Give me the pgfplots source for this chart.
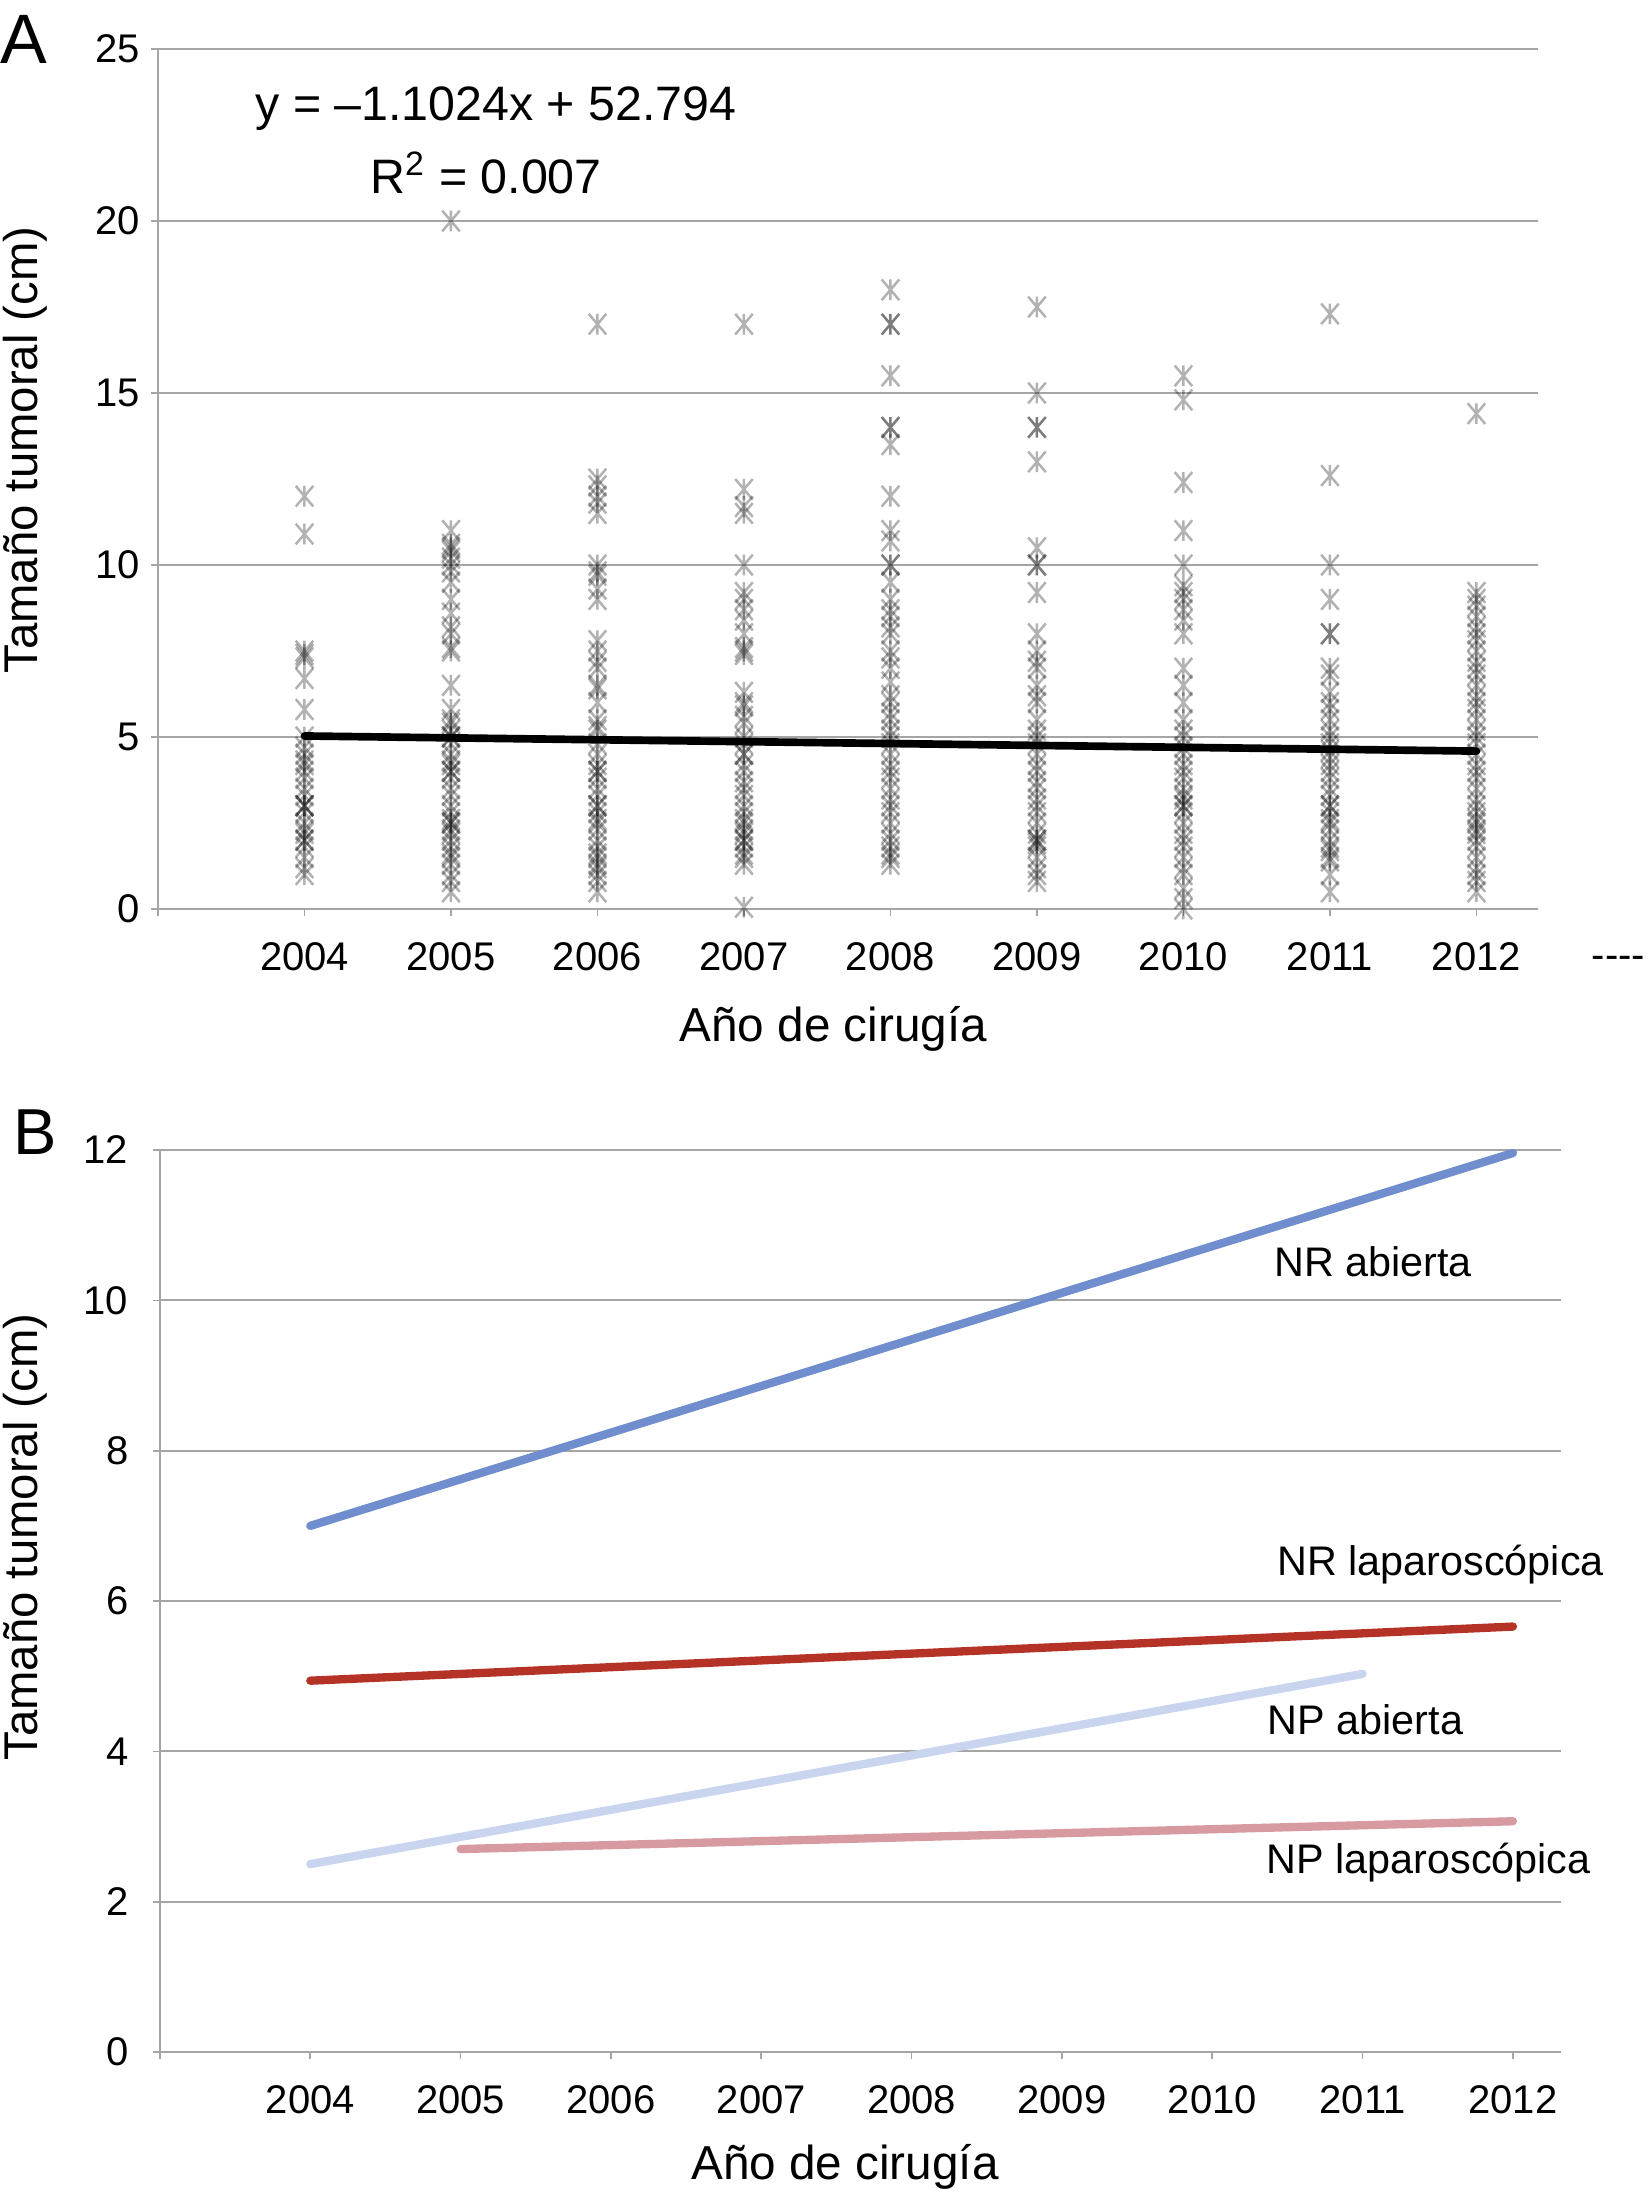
\documentclass[border=0pt]{standalone}
\usepackage{pgfplots}
\pgfplotsset{compat=1.18}
\usepackage{fontspec}
\setmainfont{Liberation Sans}

\definecolor{gridgray}{RGB}{165,165,165}
\definecolor{nrabierta}{RGB}{112,141,206}
\definecolor{nrlapar}{RGB}{180,50,38}
\definecolor{npabierta}{RGB}{201,213,238}
\definecolor{nplapar}{RGB}{214,154,160}

% Excel-like asterisk: vertical bar plus a steep X
\pgfdeclareplotmark{xast}{%
  \pgfpathmoveto{\pgfqpoint{0pt}{\pgfplotmarksize}}%
  \pgfpathlineto{\pgfqpoint{0pt}{-\pgfplotmarksize}}%
  \pgfpathmoveto{\pgfqpoint{-0.85\pgfplotmarksize}{-\pgfplotmarksize}}%
  \pgfpathlineto{\pgfqpoint{0.85\pgfplotmarksize}{\pgfplotmarksize}}%
  \pgfpathmoveto{\pgfqpoint{-0.85\pgfplotmarksize}{\pgfplotmarksize}}%
  \pgfpathlineto{\pgfqpoint{0.85\pgfplotmarksize}{-\pgfplotmarksize}}%
  \pgfusepathqstroke
}

\pgfplotsset{
  panel/.style={
    scale only axis,
    anchor=south west,
    axis x line*=bottom,
    axis y line*=left,
    axis line style={draw=gridgray, line width=0.6pt},
    ymajorgrids,
    grid style={draw=gridgray, line width=0.6pt},
    tick style={draw=gridgray, line width=0.5pt},
    tick align=outside,
    major tick length=2pt,
    xtick={2003,2004,2005,2006,2007,2008,2009,2010,2011,2012},
    xticklabels={,2004,2005,2006,2007,2008,2009,2010,2011,2012},
    ticklabel style={font=\fontsize{12}{12}\selectfont},
    xticklabel style={yshift=-4.4pt},
    /pgf/number format/assume math mode=true,
    clip=false,
  },
}

\begin{document}
\begin{tikzpicture}
\path[use as bounding box] (0pt,0pt) rectangle (495pt,-657.3pt);

% ---------- panel A ----------
\begin{axis}[panel,
  at={(47.4pt,-272.7pt)}, width=414pt, height=258pt,
  xmin=2003, xmax=2012.42, ymin=0, ymax=25,
  ytick={0,5,10,15,20,25},
]
\addplot[only marks, mark=xast, mark size=3.1pt,
  mark options={draw=black, draw opacity=0.3, line width=0.75pt}] coordinates {
(2004,12.0)(2004,10.9)(2004,7.5)(2004,7.4)(2004,7.3)(2004,6.7)(2004,5.8)(2004,5.0)(2004,4.7)(2004,4.5)(2004,4.3)(2004,4.2)(2004,4.0)(2004,3.8)(2004,3.5)(2004,3.3)(2004,3.0)(2004,3.0)(2004,3.0)(2004,2.8)(2004,2.5)(2004,2.3)(2004,2.2)(2004,2.0)(2004,2.0)(2004,1.8)(2004,1.5)(2004,1.2)(2004,1.0)
(2005,20.0)(2005,11.0)(2005,10.6)(2005,10.5)(2005,10.4)(2005,10.2)(2005,10.0)(2005,9.8)(2005,9.5)(2005,9.0)(2005,8.6)(2005,8.2)(2005,8.0)(2005,7.6)(2005,7.5)(2005,6.5)(2005,5.8)(2005,5.5)(2005,5.4)(2005,5.2)(2005,5.0)(2005,5.0)(2005,4.8)(2005,4.5)(2005,4.3)(2005,4.2)(2005,4.0)(2005,4.0)(2005,3.8)(2005,3.5)(2005,3.3)(2005,3.0)(2005,2.8)(2005,2.6)(2005,2.5)(2005,2.5)(2005,2.3)(2005,2.2)(2005,2.0)(2005,1.8)(2005,1.6)(2005,1.5)(2005,1.3)(2005,1.0)(2005,0.8)(2005,0.5)
(2006,17.0)(2006,12.5)(2006,12.3)(2006,12.0)(2006,11.8)(2006,11.5)(2006,10.0)(2006,9.8)(2006,9.7)(2006,9.3)(2006,9.0)(2006,7.8)(2006,7.5)(2006,7.2)(2006,7.0)(2006,6.5)(2006,6.4)(2006,6.0)(2006,5.5)(2006,5.3)(2006,5.2)(2006,4.8)(2006,4.5)(2006,4.2)(2006,4.0)(2006,4.0)(2006,3.8)(2006,3.5)(2006,3.3)(2006,3.0)(2006,3.0)(2006,2.8)(2006,2.6)(2006,2.5)(2006,2.3)(2006,2.0)(2006,1.8)(2006,1.6)(2006,1.5)(2006,1.3)(2006,1.2)(2006,1.0)(2006,0.8)(2006,0.5)
(2007,17.0)(2007,12.2)(2007,11.7)(2007,11.5)(2007,10.0)(2007,9.2)(2007,9.0)(2007,8.7)(2007,8.4)(2007,8.0)(2007,7.6)(2007,7.5)(2007,7.4)(2007,6.3)(2007,6.0)(2007,5.9)(2007,5.6)(2007,5.4)(2007,5.0)(2007,4.8)(2007,4.5)(2007,4.5)(2007,4.2)(2007,4.0)(2007,3.7)(2007,3.5)(2007,3.3)(2007,3.0)(2007,2.8)(2007,2.6)(2007,2.5)(2007,2.3)(2007,2.2)(2007,2.0)(2007,2.0)(2007,1.8)(2007,1.6)(2007,1.5)(2007,1.3)(2007,0.05)
(2008,18.0)(2008,17.0)(2008,17.0)(2008,15.5)(2008,14.0)(2008,14.0)(2008,13.5)(2008,12.0)(2008,11.0)(2008,10.7)(2008,10.0)(2008,10.0)(2008,9.5)(2008,9.0)(2008,8.7)(2008,8.5)(2008,8.2)(2008,8.0)(2008,7.5)(2008,7.3)(2008,7.0)(2008,6.6)(2008,6.2)(2008,6.0)(2008,5.7)(2008,5.5)(2008,5.2)(2008,5.0)(2008,4.8)(2008,4.5)(2008,4.2)(2008,4.0)(2008,3.8)(2008,3.5)(2008,3.2)(2008,3.0)(2008,2.8)(2008,2.5)(2008,2.2)(2008,2.0)(2008,1.8)(2008,1.6)(2008,1.5)(2008,1.3)
(2009,17.5)(2009,15.0)(2009,14.0)(2009,14.0)(2009,13.0)(2009,10.5)(2009,10.0)(2009,10.0)(2009,9.2)(2009,8.0)(2009,7.5)(2009,7.2)(2009,7.0)(2009,6.5)(2009,6.2)(2009,6.0)(2009,5.5)(2009,5.2)(2009,5.0)(2009,4.8)(2009,4.5)(2009,4.2)(2009,4.0)(2009,3.7)(2009,3.5)(2009,3.2)(2009,3.0)(2009,2.8)(2009,2.5)(2009,2.2)(2009,2.0)(2009,2.0)(2009,1.9)(2009,1.8)(2009,1.5)(2009,1.2)(2009,1.0)(2009,0.8)
(2010,15.5)(2010,14.8)(2010,12.4)(2010,11.0)(2010,10.0)(2010,9.4)(2010,9.2)(2010,9.0)(2010,8.7)(2010,8.4)(2010,8.0)(2010,7.0)(2010,6.5)(2010,6.0)(2010,5.5)(2010,5.2)(2010,5.0)(2010,4.7)(2010,4.5)(2010,4.2)(2010,4.0)(2010,3.8)(2010,3.5)(2010,3.3)(2010,3.2)(2010,3.0)(2010,3.0)(2010,2.8)(2010,2.5)(2010,2.2)(2010,2.0)(2010,1.8)(2010,1.5)(2010,1.2)(2010,1.0)(2010,0.6)(2010,0.3)(2010,0.0)
(2011,17.3)(2011,12.6)(2011,10.0)(2011,9.0)(2011,8.0)(2011,8.0)(2011,7.0)(2011,6.8)(2011,6.3)(2011,6.0)(2011,5.8)(2011,5.5)(2011,5.2)(2011,5.0)(2011,4.8)(2011,4.6)(2011,4.4)(2011,4.2)(2011,4.0)(2011,3.8)(2011,3.5)(2011,3.3)(2011,3.0)(2011,3.0)(2011,2.8)(2011,2.6)(2011,2.5)(2011,2.3)(2011,2.0)(2011,1.8)(2011,1.7)(2011,1.5)(2011,1.4)(2011,1.0)(2011,0.5)
(2012,14.4)(2012,9.2)(2012,9.0)(2012,8.8)(2012,8.5)(2012,8.2)(2012,8.0)(2012,7.8)(2012,7.5)(2012,7.2)(2012,7.0)(2012,6.8)(2012,6.5)(2012,6.2)(2012,6.0)(2012,5.8)(2012,5.5)(2012,5.2)(2012,5.0)(2012,4.8)(2012,4.5)(2012,4.2)(2012,4.0)(2012,3.8)(2012,3.5)(2012,3.2)(2012,3.0)(2012,2.8)(2012,2.6)(2012,2.5)(2012,2.3)(2012,2.2)(2012,2.0)(2012,1.8)(2012,1.5)(2012,1.2)(2012,1.0)(2012,0.8)(2012,0.5)
};
% trend line
\addplot[black, line width=2.3pt, line cap=round] coordinates {(2004,5.03) (2012,4.59)};
\end{axis}

\node[font=\fontsize{21}{21}\selectfont] at (7.2pt,-11.7pt) {A};
\node[rotate=90, font=\fontsize{14.2}{14.2}\selectfont] at (7.5pt,-135pt) {Tamaño tumoral (cm)};
\node[font=\fontsize{14.3}{14.3}\selectfont] at (250pt,-308.6pt) {Año de cirugía};
\node[font=\fontsize{14.5}{14.5}\selectfont] at (148.8pt,-32.7pt) {y = –1.1024x + 52.794};
\node[font=\fontsize{14.5}{14.5}\selectfont] at (145.8pt,-51.9pt) {R\textsuperscript{2} = 0.007};
\node[anchor=west, inner sep=0pt, font=\fontsize{12}{12}\selectfont] at (477.3pt,-288.8pt) {{-}{-}{-}{-}};

% ---------- panel B ----------
\begin{axis}[panel,
  at={(48pt,-615.6pt)}, width=420.3pt, height=270.6pt,
  xmin=2003, xmax=2012.32, ymin=0, ymax=12,
  ytick={0,2,4,6,8,10,12},
  yticklabel style={xshift=-4pt},
]
\addplot[nrabierta, line width=2.5pt, line cap=round] coordinates {(2004,7.00) (2012,11.96)};
\addplot[nrlapar, line width=2.5pt, line cap=round] coordinates {(2004,4.94) (2012,5.66)};
\addplot[npabierta, line width=2.5pt, line cap=round] coordinates {(2004,2.50) (2011,5.03)};
\addplot[nplapar, line width=2.5pt, line cap=round] coordinates {(2005,2.70) (2012,3.07)};
\node[font=\fontsize{12.4}{12.4}\selectfont] at (axis cs:2011.07,10.51) {NR abierta};
\node[font=\fontsize{12.4}{12.4}\selectfont] at (axis cs:2011.52,6.48) {NR laparoscópica};
\node[font=\fontsize{12.4}{12.4}\selectfont] at (axis cs:2011.02,4.42) {NP abierta};
\node[font=\fontsize{12.4}{12.4}\selectfont] at (axis cs:2011.44,2.52) {NP laparoscópica};
\end{axis}

\node[font=\fontsize{19.5}{19.5}\selectfont] at (10.5pt,-339.6pt) {B};
\node[rotate=90, font=\fontsize{14.2}{14.2}\selectfont] at (7.5pt,-461.1pt) {Tamaño tumoral (cm)};
\node[font=\fontsize{14.3}{14.3}\selectfont] at (253.5pt,-650pt) {Año de cirugía};
\end{tikzpicture}
\end{document}
